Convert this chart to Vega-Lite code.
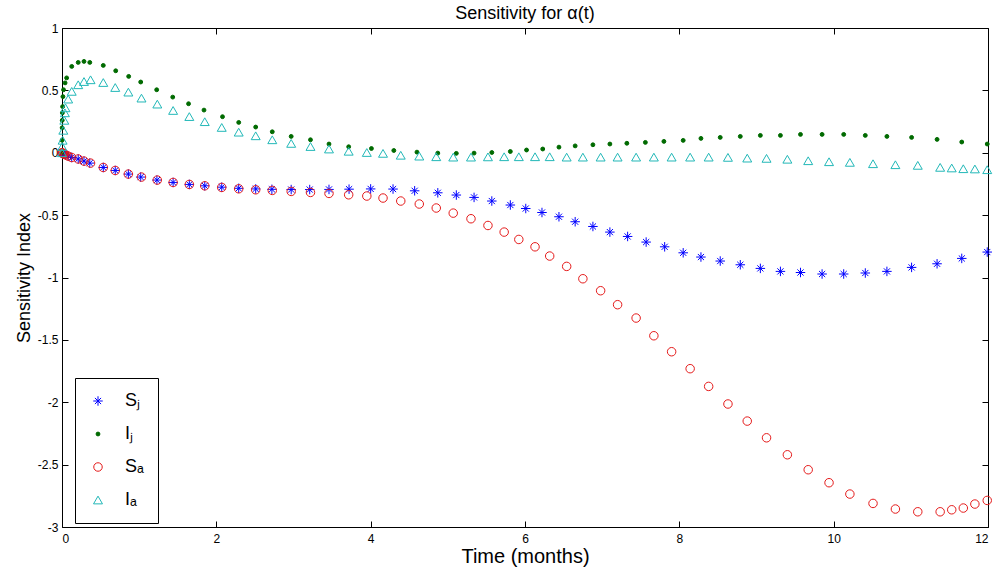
{
  "$schema": "https://vega.github.io/schema/vega-lite/v6.json",
  "width": 926,
  "height": 499,
  "autosize": {"type": "none"},
  "padding": {"left": 62, "top": 28, "right": 7, "bottom": 46},
  "background": "white",
  "config": {
    "font": "Liberation Sans",
    "view": {"stroke": "#000000", "strokeWidth": 1},
    "axis": {"grid": false, "labelFont": "Liberation Sans", "labelFontSize": 12, "labelColor": "#000000", "tickColor": "#000000", "domainColor": "#000000", "titleFont": "Liberation Sans", "titleFontWeight": "normal", "titleColor": "#000000", "titleFontSize": 18},
    "legend": {"orient": "none", "legendX": 13, "legendY": 350, "strokeColor": "#000000", "fillColor": "#ffffff", "padding": 14, "rowPadding": 15, "labelFontSize": 18, "labelFont": "Liberation Sans", "labelColor": "#000000", "symbolStrokeWidth": 1, "labelOffset": 18, "title": null}
  },
  "title": {"text": "Sensitivity for α(t)", "fontSize": 18, "fontWeight": "normal", "font": "Liberation Sans", "offset": -1, "color": "#000000"},
  "data": {"values": [
    {"t": 0, "v": 0, "s": "Sⱼ"}, {"t": 0.005, "v": -0.002, "s": "Sⱼ"}, {"t": 0.01, "v": -0.004, "s": "Sⱼ"}, {"t": 0.02, "v": -0.008, "s": "Sⱼ"}, {"t": 0.03, "v": -0.012, "s": "Sⱼ"}, {"t": 0.05, "v": -0.018, "s": "Sⱼ"}, {"t": 0.08, "v": -0.027, "s": "Sⱼ"}, {"t": 0.126, "v": -0.038, "s": "Sⱼ"}, {"t": 0.21, "v": -0.05, "s": "Sⱼ"}, {"t": 0.285, "v": -0.067, "s": "Sⱼ"}, {"t": 0.36, "v": -0.083, "s": "Sⱼ"}, {"t": 0.535, "v": -0.118, "s": "Sⱼ"}, {"t": 0.69, "v": -0.142, "s": "Sⱼ"}, {"t": 0.86, "v": -0.171, "s": "Sⱼ"}, {"t": 1.02, "v": -0.195, "s": "Sⱼ"}, {"t": 1.23, "v": -0.219, "s": "Sⱼ"}, {"t": 1.44, "v": -0.238, "s": "Sⱼ"}, {"t": 1.65, "v": -0.254, "s": "Sⱼ"}, {"t": 1.85, "v": -0.265, "s": "Sⱼ"}, {"t": 2.07, "v": -0.276, "s": "Sⱼ"}, {"t": 2.29, "v": -0.285, "s": "Sⱼ"}, {"t": 2.51, "v": -0.29, "s": "Sⱼ"}, {"t": 2.72, "v": -0.293, "s": "Sⱼ"}, {"t": 2.97, "v": -0.295, "s": "Sⱼ"}, {"t": 3.21, "v": -0.295, "s": "Sⱼ"}, {"t": 3.46, "v": -0.294, "s": "Sⱼ"}, {"t": 3.72, "v": -0.292, "s": "Sⱼ"}, {"t": 4.0, "v": -0.29, "s": "Sⱼ"}, {"t": 4.29, "v": -0.291, "s": "Sⱼ"}, {"t": 4.57, "v": -0.305, "s": "Sⱼ"}, {"t": 4.87, "v": -0.321, "s": "Sⱼ"}, {"t": 5.11, "v": -0.339, "s": "Sⱼ"}, {"t": 5.34, "v": -0.358, "s": "Sⱼ"}, {"t": 5.57, "v": -0.387, "s": "Sⱼ"}, {"t": 5.81, "v": -0.419, "s": "Sⱼ"}, {"t": 6.01, "v": -0.447, "s": "Sⱼ"}, {"t": 6.22, "v": -0.479, "s": "Sⱼ"}, {"t": 6.44, "v": -0.513, "s": "Sⱼ"}, {"t": 6.65, "v": -0.553, "s": "Sⱼ"}, {"t": 6.88, "v": -0.591, "s": "Sⱼ"}, {"t": 7.1, "v": -0.636, "s": "Sⱼ"}, {"t": 7.33, "v": -0.671, "s": "Sⱼ"}, {"t": 7.57, "v": -0.716, "s": "Sⱼ"}, {"t": 7.81, "v": -0.754, "s": "Sⱼ"}, {"t": 8.05, "v": -0.802, "s": "Sⱼ"}, {"t": 8.28, "v": -0.836, "s": "Sⱼ"}, {"t": 8.53, "v": -0.868, "s": "Sⱼ"}, {"t": 8.79, "v": -0.898, "s": "Sⱼ"}, {"t": 9.05, "v": -0.927, "s": "Sⱼ"}, {"t": 9.31, "v": -0.951, "s": "Sⱼ"}, {"t": 9.57, "v": -0.96, "s": "Sⱼ"}, {"t": 9.85, "v": -0.972, "s": "Sⱼ"}, {"t": 10.13, "v": -0.972, "s": "Sⱼ"}, {"t": 10.41, "v": -0.964, "s": "Sⱼ"}, {"t": 10.69, "v": -0.951, "s": "Sⱼ"}, {"t": 11.01, "v": -0.919, "s": "Sⱼ"}, {"t": 11.34, "v": -0.89, "s": "Sⱼ"}, {"t": 11.66, "v": -0.847, "s": "Sⱼ"}, {"t": 11.99, "v": -0.796, "s": "Sⱼ"},

    {"t": 0, "v": 0, "s": "Iⱼ"}, {"t": 0.001, "v": 0.1, "s": "Iⱼ"}, {"t": 0.002, "v": 0.2, "s": "Iⱼ"}, {"t": 0.003, "v": 0.26, "s": "Iⱼ"}, {"t": 0.005, "v": 0.32, "s": "Iⱼ"}, {"t": 0.008, "v": 0.37, "s": "Iⱼ"}, {"t": 0.012, "v": 0.45, "s": "Iⱼ"}, {"t": 0.02, "v": 0.505, "s": "Iⱼ"}, {"t": 0.04, "v": 0.56, "s": "Iⱼ"}, {"t": 0.06, "v": 0.6, "s": "Iⱼ"}, {"t": 0.126, "v": 0.692, "s": "Iⱼ"}, {"t": 0.21, "v": 0.724, "s": "Iⱼ"}, {"t": 0.285, "v": 0.732, "s": "Iⱼ"}, {"t": 0.36, "v": 0.724, "s": "Iⱼ"}, {"t": 0.535, "v": 0.7, "s": "Iⱼ"}, {"t": 0.696, "v": 0.657, "s": "Iⱼ"}, {"t": 0.864, "v": 0.612, "s": "Iⱼ"}, {"t": 1.02, "v": 0.567, "s": "Iⱼ"}, {"t": 1.227, "v": 0.505, "s": "Iⱼ"}, {"t": 1.435, "v": 0.446, "s": "Iⱼ"}, {"t": 1.64, "v": 0.393, "s": "Iⱼ"}, {"t": 1.84, "v": 0.342, "s": "Iⱼ"}, {"t": 2.08, "v": 0.289, "s": "Iⱼ"}, {"t": 2.29, "v": 0.243, "s": "Iⱼ"}, {"t": 2.51, "v": 0.206, "s": "Iⱼ"}, {"t": 2.725, "v": 0.168, "s": "Iⱼ"}, {"t": 2.97, "v": 0.131, "s": "Iⱼ"}, {"t": 3.22, "v": 0.104, "s": "Iⱼ"}, {"t": 3.46, "v": 0.07, "s": "Iⱼ"}, {"t": 3.715, "v": 0.048, "s": "Iⱼ"}, {"t": 4.01, "v": 0.034, "s": "Iⱼ"}, {"t": 4.3, "v": 0.018, "s": "Iⱼ"}, {"t": 4.6, "v": 0.005, "s": "Iⱼ"}, {"t": 4.87, "v": -0.003, "s": "Iⱼ"}, {"t": 5.11, "v": -0.005, "s": "Iⱼ"}, {"t": 5.34, "v": -0.003, "s": "Iⱼ"}, {"t": 5.57, "v": 0.002, "s": "Iⱼ"}, {"t": 5.81, "v": 0.01, "s": "Iⱼ"}, {"t": 6.02, "v": 0.022, "s": "Iⱼ"}, {"t": 6.23, "v": 0.03, "s": "Iⱼ"}, {"t": 6.44, "v": 0.045, "s": "Iⱼ"}, {"t": 6.65, "v": 0.055, "s": "Iⱼ"}, {"t": 6.88, "v": 0.064, "s": "Iⱼ"}, {"t": 7.1, "v": 0.07, "s": "Iⱼ"}, {"t": 7.32, "v": 0.076, "s": "Iⱼ"}, {"t": 7.56, "v": 0.083, "s": "Iⱼ"}, {"t": 7.8, "v": 0.091, "s": "Iⱼ"}, {"t": 8.05, "v": 0.099, "s": "Iⱼ"}, {"t": 8.28, "v": 0.115, "s": "Iⱼ"}, {"t": 8.53, "v": 0.123, "s": "Iⱼ"}, {"t": 8.79, "v": 0.131, "s": "Iⱼ"}, {"t": 9.05, "v": 0.139, "s": "Iⱼ"}, {"t": 9.31, "v": 0.139, "s": "Iⱼ"}, {"t": 9.57, "v": 0.147, "s": "Iⱼ"}, {"t": 9.85, "v": 0.147, "s": "Iⱼ"}, {"t": 10.13, "v": 0.147, "s": "Iⱼ"}, {"t": 10.41, "v": 0.139, "s": "Iⱼ"}, {"t": 10.69, "v": 0.131, "s": "Iⱼ"}, {"t": 11.01, "v": 0.123, "s": "Iⱼ"}, {"t": 11.34, "v": 0.107, "s": "Iⱼ"}, {"t": 11.66, "v": 0.086, "s": "Iⱼ"}, {"t": 11.99, "v": 0.07, "s": "Iⱼ"},

    {"t": 0, "v": 0, "s": "Sₐ"}, {"t": 0.005, "v": -0.002, "s": "Sₐ"}, {"t": 0.01, "v": -0.004, "s": "Sₐ"}, {"t": 0.02, "v": -0.008, "s": "Sₐ"}, {"t": 0.03, "v": -0.012, "s": "Sₐ"}, {"t": 0.05, "v": -0.018, "s": "Sₐ"}, {"t": 0.08, "v": -0.027, "s": "Sₐ"}, {"t": 0.126, "v": -0.038, "s": "Sₐ"}, {"t": 0.21, "v": -0.05, "s": "Sₐ"}, {"t": 0.285, "v": -0.067, "s": "Sₐ"}, {"t": 0.37, "v": -0.083, "s": "Sₐ"}, {"t": 0.535, "v": -0.118, "s": "Sₐ"}, {"t": 0.69, "v": -0.142, "s": "Sₐ"}, {"t": 0.86, "v": -0.171, "s": "Sₐ"}, {"t": 1.03, "v": -0.195, "s": "Sₐ"}, {"t": 1.235, "v": -0.219, "s": "Sₐ"}, {"t": 1.44, "v": -0.238, "s": "Sₐ"}, {"t": 1.65, "v": -0.254, "s": "Sₐ"}, {"t": 1.85, "v": -0.265, "s": "Sₐ"}, {"t": 2.07, "v": -0.278, "s": "Sₐ"}, {"t": 2.29, "v": -0.289, "s": "Sₐ"}, {"t": 2.51, "v": -0.297, "s": "Sₐ"}, {"t": 2.725, "v": -0.302, "s": "Sₐ"}, {"t": 2.97, "v": -0.31, "s": "Sₐ"}, {"t": 3.22, "v": -0.318, "s": "Sₐ"}, {"t": 3.46, "v": -0.326, "s": "Sₐ"}, {"t": 3.715, "v": -0.337, "s": "Sₐ"}, {"t": 3.95, "v": -0.347, "s": "Sₐ"}, {"t": 4.16, "v": -0.363, "s": "Sₐ"}, {"t": 4.39, "v": -0.387, "s": "Sₐ"}, {"t": 4.63, "v": -0.411, "s": "Sₐ"}, {"t": 4.85, "v": -0.443, "s": "Sₐ"}, {"t": 5.07, "v": -0.484, "s": "Sₐ"}, {"t": 5.3, "v": -0.529, "s": "Sₐ"}, {"t": 5.52, "v": -0.583, "s": "Sₐ"}, {"t": 5.73, "v": -0.636, "s": "Sₐ"}, {"t": 5.92, "v": -0.695, "s": "Sₐ"}, {"t": 6.13, "v": -0.754, "s": "Sₐ"}, {"t": 6.32, "v": -0.828, "s": "Sₐ"}, {"t": 6.54, "v": -0.911, "s": "Sₐ"}, {"t": 6.75, "v": -1.01, "s": "Sₐ"}, {"t": 6.98, "v": -1.106, "s": "Sₐ"}, {"t": 7.2, "v": -1.218, "s": "Sₐ"}, {"t": 7.44, "v": -1.325, "s": "Sₐ"}, {"t": 7.67, "v": -1.467, "s": "Sₐ"}, {"t": 7.9, "v": -1.595, "s": "Sₐ"}, {"t": 8.14, "v": -1.731, "s": "Sₐ"}, {"t": 8.38, "v": -1.873, "s": "Sₐ"}, {"t": 8.63, "v": -2.014, "s": "Sₐ"}, {"t": 8.88, "v": -2.151, "s": "Sₐ"}, {"t": 9.13, "v": -2.285, "s": "Sₐ"}, {"t": 9.4, "v": -2.421, "s": "Sₐ"}, {"t": 9.67, "v": -2.541, "s": "Sₐ"}, {"t": 9.94, "v": -2.645, "s": "Sₐ"}, {"t": 10.21, "v": -2.736, "s": "Sₐ"}, {"t": 10.51, "v": -2.811, "s": "Sₐ"}, {"t": 10.8, "v": -2.856, "s": "Sₐ"}, {"t": 11.09, "v": -2.878, "s": "Sₐ"}, {"t": 11.38, "v": -2.878, "s": "Sₐ"}, {"t": 11.53, "v": -2.862, "s": "Sₐ"}, {"t": 11.68, "v": -2.848, "s": "Sₐ"}, {"t": 11.83, "v": -2.816, "s": "Sₐ"}, {"t": 11.99, "v": -2.787, "s": "Sₐ"},

    {"t": 0, "v": 0, "s": "Iₐ"}, {"t": 0.003, "v": 0.05, "s": "Iₐ"}, {"t": 0.008, "v": 0.1, "s": "Iₐ"}, {"t": 0.017, "v": 0.18, "s": "Iₐ"}, {"t": 0.03, "v": 0.26, "s": "Iₐ"}, {"t": 0.038, "v": 0.32, "s": "Iₐ"}, {"t": 0.045, "v": 0.36, "s": "Iₐ"}, {"t": 0.08, "v": 0.43, "s": "Iₐ"}, {"t": 0.126, "v": 0.492, "s": "Iₐ"}, {"t": 0.21, "v": 0.545, "s": "Iₐ"}, {"t": 0.285, "v": 0.571, "s": "Iₐ"}, {"t": 0.37, "v": 0.585, "s": "Iₐ"}, {"t": 0.535, "v": 0.563, "s": "Iₐ"}, {"t": 0.69, "v": 0.523, "s": "Iₐ"}, {"t": 0.86, "v": 0.486, "s": "Iₐ"}, {"t": 1.03, "v": 0.438, "s": "Iₐ"}, {"t": 1.235, "v": 0.39, "s": "Iₐ"}, {"t": 1.44, "v": 0.339, "s": "Iₐ"}, {"t": 1.65, "v": 0.29, "s": "Iₐ"}, {"t": 1.85, "v": 0.249, "s": "Iₐ"}, {"t": 2.07, "v": 0.203, "s": "Iₐ"}, {"t": 2.29, "v": 0.165, "s": "Iₐ"}, {"t": 2.51, "v": 0.136, "s": "Iₐ"}, {"t": 2.725, "v": 0.104, "s": "Iₐ"}, {"t": 2.97, "v": 0.075, "s": "Iₐ"}, {"t": 3.22, "v": 0.05, "s": "Iₐ"}, {"t": 3.46, "v": 0.03, "s": "Iₐ"}, {"t": 3.715, "v": 0.012, "s": "Iₐ"}, {"t": 3.95, "v": 0.002, "s": "Iₐ"}, {"t": 4.16, "v": -0.005, "s": "Iₐ"}, {"t": 4.39, "v": -0.02, "s": "Iₐ"}, {"t": 4.63, "v": -0.027, "s": "Iₐ"}, {"t": 4.85, "v": -0.032, "s": "Iₐ"}, {"t": 5.07, "v": -0.035, "s": "Iₐ"}, {"t": 5.3, "v": -0.035, "s": "Iₐ"}, {"t": 5.52, "v": -0.033, "s": "Iₐ"}, {"t": 5.73, "v": -0.032, "s": "Iₐ"}, {"t": 5.92, "v": -0.032, "s": "Iₐ"}, {"t": 6.13, "v": -0.032, "s": "Iₐ"}, {"t": 6.32, "v": -0.032, "s": "Iₐ"}, {"t": 6.54, "v": -0.035, "s": "Iₐ"}, {"t": 6.75, "v": -0.035, "s": "Iₐ"}, {"t": 6.98, "v": -0.035, "s": "Iₐ"}, {"t": 7.2, "v": -0.035, "s": "Iₐ"}, {"t": 7.44, "v": -0.035, "s": "Iₐ"}, {"t": 7.67, "v": -0.035, "s": "Iₐ"}, {"t": 7.9, "v": -0.035, "s": "Iₐ"}, {"t": 8.14, "v": -0.035, "s": "Iₐ"}, {"t": 8.38, "v": -0.035, "s": "Iₐ"}, {"t": 8.63, "v": -0.037, "s": "Iₐ"}, {"t": 8.88, "v": -0.043, "s": "Iₐ"}, {"t": 9.13, "v": -0.045, "s": "Iₐ"}, {"t": 9.4, "v": -0.052, "s": "Iₐ"}, {"t": 9.67, "v": -0.064, "s": "Iₐ"}, {"t": 9.94, "v": -0.072, "s": "Iₐ"}, {"t": 10.21, "v": -0.077, "s": "Iₐ"}, {"t": 10.51, "v": -0.088, "s": "Iₐ"}, {"t": 10.8, "v": -0.096, "s": "Iₐ"}, {"t": 11.09, "v": -0.101, "s": "Iₐ"}, {"t": 11.38, "v": -0.117, "s": "Iₐ"}, {"t": 11.53, "v": -0.122, "s": "Iₐ"}, {"t": 11.68, "v": -0.128, "s": "Iₐ"}, {"t": 11.83, "v": -0.13, "s": "Iₐ"}, {"t": 11.99, "v": -0.136, "s": "Iₐ"}
  ]},
  "layer": [
    {
      "mark": {"type": "point", "strokeWidth": 1, "opacity": 1},
      "encoding": {
        "x": {"field": "t", "type": "quantitative", "scale": {"domain": [0, 12], "nice": false, "zero": false},
              "axis": {"orient": "bottom", "values": [0, 2, 4, 6, 8, 10, 12], "tickSize": -6, "labelPadding": 12, "domain": false, "title": "Time (months)", "titleFontSize": 20, "titlePadding": 2}},
        "y": {"field": "v", "type": "quantitative", "scale": {"domain": [-3, 1], "nice": false, "zero": false},
              "axis": {"orient": "left", "values": [-3, -2.5, -2, -1.5, -1, -0.5, 0, 0.5, 1], "labelExpr": "'' + datum.value", "tickSize": -6, "labelPadding": 10, "domain": false, "title": "Sensitivity Index", "titlePadding": 4}},
        "shape": {"field": "s", "type": "nominal", "scale": {"domain": ["Sⱼ", "Iⱼ", "Sₐ", "Iₐ"], "range": ["M-1,0L1,0M0,-1L0,1M-0.65,-0.65L0.65,0.65M-0.65,0.65L0.65,-0.65", "circle", "circle", "triangle-up"]}},
        "stroke": {"field": "s", "type": "nominal", "scale": {"domain": ["Sⱼ", "Iⱼ", "Sₐ", "Iₐ"], "range": ["#0000ff", "#006a00", "#e51a1a", "#22b8b8"]}},
        "fill": {"field": "s", "type": "nominal", "scale": {"domain": ["Sⱼ", "Iⱼ", "Sₐ", "Iₐ"], "range": ["transparent", "#006a00", "transparent", "transparent"]}},
        "size": {"field": "s", "type": "nominal", "scale": {"type": "ordinal", "domain": ["Sⱼ", "Iⱼ", "Sₐ", "Iₐ"], "range": [90, 15, 72, 80]}}
      }
    },
    {
      "mark": {"type": "point", "opacity": 0},
      "encoding": {
        "x": {"field": "t", "type": "quantitative", "axis": {"orient": "top", "values": [0, 2, 4, 6, 8, 10, 12], "tickSize": -6, "labels": false, "domain": false, "title": null}},
        "y": {"field": "v", "type": "quantitative", "axis": {"orient": "right", "values": [-3, -2.5, -2, -1.5, -1, -0.5, 0, 0.5, 1], "tickSize": -6, "labels": false, "domain": false, "title": null}}
      }
    }
  ],
  "resolve": {"axis": {"x": "independent", "y": "independent"}}
}
